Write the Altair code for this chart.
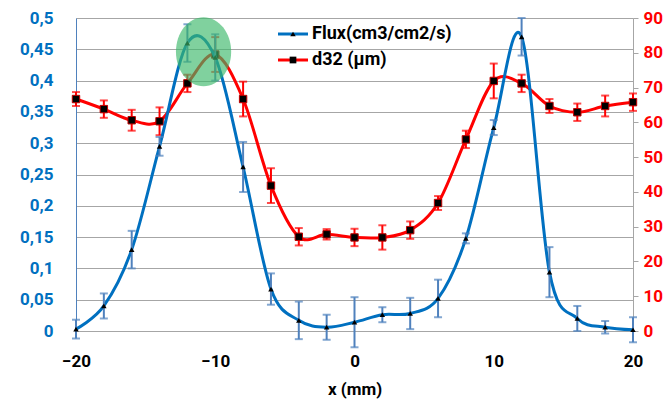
import altair as alt
import pandas as pd

x_mm = list(range(-20, 21, 2))
flux = [0.003, 0.040, 0.130, 0.295, 0.460, 0.437, 0.262, 0.067, 0.017, 0.006, 0.014,
        0.026, 0.028, 0.052, 0.148, 0.325, 0.470, 0.094, 0.020, 0.006, 0.002]
flux_err = [0.015, 0.020, 0.030, 0.015, 0.030, 0.037, 0.040, 0.025, 0.030, 0.020, 0.040,
            0.012, 0.025, 0.030, 0.008, 0.012, 0.030, 0.040, 0.020, 0.010, 0.020]
d32 = [66.7, 63.8, 60.6, 60.3, 71.2, 79.5, 66.7, 41.8, 27.1, 27.8, 26.9,
       26.9, 29.0, 36.8, 55.1, 71.9, 71.2, 64.7, 62.9, 64.7, 65.8]
d32_err = [2.0, 2.5, 3.0, 4.0, 2.5, 5.0, 5.0, 5.0, 2.5, 1.5, 2.5,
           3.5, 2.5, 2.0, 2.5, 5.0, 2.5, 2.0, 2.5, 3.0, 2.5]

x_ticks = [-20, -10, 0, 10, 20]
left_ticks = [0, 0.05, 0.1, 0.15, 0.2, 0.25, 0.3, 0.35, 0.4, 0.45, 0.5]
right_ticks = [0, 10, 20, 30, 40, 50, 60, 70, 80, 90]

highlight_x = [-10.84]
highlight_y = [0.446]

df = pd.DataFrame({"x": x_mm, "flux": flux, "ferr": flux_err, "d32": d32, "derr": d32_err})
df["flux_lo"] = df["flux"] - df["ferr"]
df["flux_hi"] = df["flux"] + df["ferr"]
df["d_lo"] = df["d32"] - df["derr"]
df["d_hi"] = df["d32"] + df["derr"]

FONT = "Roboto"
BLUE = "#0070C0"
EBLUE = "#4F81BD"
RED = "#FF0000"
GRID = "#A6A6A6"

xscale = alt.Scale(domain=[-20, 20], nice=False, padding=0, zero=False)
yL = alt.Scale(domain=[0, 0.5], nice=False, padding=0)
yR = alt.Scale(domain=[0, 90], nice=False, padding=0)

x_axis = alt.Axis(
    values=x_ticks, title="x (mm)", grid=False, ticks=False, domainColor=GRID,
    labelFlush=False,
    labelFont=FONT, labelFontSize=17, labelFontWeight="bold", labelColor="black",
    labelPadding=22, titleFont=FONT, titleFontSize=17, titleFontWeight="bold",
    titleColor="black", titlePadding=12)
left_axis = alt.Axis(
    values=left_ticks, orient="left", title=None, grid=True, gridColor=GRID,
    ticks=False, domainColor=EBLUE, labelColor=BLUE, labelFont=FONT,
    labelFontSize=17, labelFontWeight="bold", labelPadding=23, labelFlush=False,
    labelExpr="replace(format(datum.value, '.2~f'), '.', ',')")
right_axis = alt.Axis(
    values=right_ticks, orient="right", title=None, grid=False, labelFlush=False,
    tickSize=5, tickColor=GRID, domainColor=GRID, labelColor=RED, labelFont=FONT,
    labelFontSize=17, labelFontWeight="bold", labelPadding=5)


def X(field="x"):
    return alt.X(f"{field}:Q", scale=xscale, axis=x_axis, title="x (mm)")


def YL(field):
    return alt.Y(f"{field}:Q", scale=yL, axis=left_axis, title=None)


def YR(field):
    return alt.Y(f"{field}:Q", scale=yR, axis=right_axis, title=None)


base = alt.Chart(df)

# d32 group (right axis)
d_line = base.mark_line(color=RED, strokeWidth=3, interpolate="cardinal").encode(
    x=X(), y=YR("d32"))
d_rule = base.mark_rule(color=RED, strokeWidth=2).encode(
    x=X(), y=YR("d_lo"), y2="d_hi:Q")
d_cap1 = base.mark_tick(color=RED, thickness=2, size=8, orient="horizontal").encode(
    x=X(), y=YR("d_lo"))
d_cap2 = base.mark_tick(color=RED, thickness=2, size=8, orient="horizontal").encode(
    x=X(), y=YR("d_hi"))
d_pts = base.mark_point(shape="square", filled=True, color="black", size=55, opacity=1,
                        stroke="#C00000", strokeWidth=1).encode(
    x=X(), y=YR("d32"))
right_group = alt.layer(d_line, d_rule, d_cap1, d_cap2, d_pts)

# flux group (left axis)
f_line = base.mark_line(color=BLUE, strokeWidth=3, interpolate="cardinal").encode(
    x=X(), y=YL("flux"))
f_rule = base.mark_rule(color=EBLUE, strokeWidth=2).encode(
    x=X(), y=YL("flux_lo"), y2="flux_hi:Q")
f_cap1 = base.mark_tick(color=EBLUE, thickness=2, size=8, orient="horizontal").encode(
    x=X(), y=YL("flux_lo"))
f_cap2 = base.mark_tick(color=EBLUE, thickness=2, size=8, orient="horizontal").encode(
    x=X(), y=YL("flux_hi"))
f_pts = base.mark_point(shape="triangle-up", filled=True, color="black", size=30, opacity=1).encode(
    x=X(), y=YL("flux"))

hl = alt.Chart(pd.DataFrame({"x": highlight_x, "hy": highlight_y})).mark_point(
    shape="M -0.8 0 A 0.8 1 0 1 1 0.8 0 A 0.8 1 0 1 1 -0.8 0 Z",
    filled=True, color="#3CB96A", opacity=0.65, size=4761).encode(
    x=X(), y=YL("hy"))

one = pd.DataFrame({"a": [0]})
leg_line1 = alt.Chart(one).mark_rule(color=BLUE, strokeWidth=3).encode(
    x=alt.value(202), x2=alt.value(232), y=alt.value(16))
leg_pt1 = alt.Chart(one).mark_point(shape="triangle-up", filled=True, color="black",
                                    size=30, opacity=1).encode(
    x=alt.value(217), y=alt.value(16))
leg_txt1 = alt.Chart(one).mark_text(text="Flux(cm3/cm2/s)", align="left", baseline="middle",
                                    font=FONT, fontSize=18, fontWeight="bold",
                                    color="black").encode(
    x=alt.value(236), y=alt.value(16))
leg_line2 = alt.Chart(one).mark_rule(color=RED, strokeWidth=3).encode(
    x=alt.value(202), x2=alt.value(232), y=alt.value(42))
leg_pt2 = alt.Chart(one).mark_point(shape="square", filled=True, color="black",
                                    size=45, opacity=1).encode(
    x=alt.value(217), y=alt.value(42))
leg_txt2 = alt.Chart(one).mark_text(text="d32 (µm)", align="left", baseline="middle",
                                    font=FONT, fontSize=18, fontWeight="bold",
                                    color="black").encode(
    x=alt.value(236), y=alt.value(42))

left_group = alt.layer(f_line, f_rule, f_cap1, f_cap2, f_pts, hl,
                       leg_line1, leg_pt1, leg_txt1, leg_line2, leg_pt2, leg_txt2)

chart = alt.layer(right_group, left_group).resolve_scale(y="independent").properties(
    width=557, height=313,
    autosize=alt.AutoSizeParams(type="none"),
    padding={"left": 68, "top": 10, "right": 31, "bottom": 68},
).configure_view(stroke=None).configure(background="white")

chart.save("out.html", embed_options={"renderer": "svg", "actions": False})
